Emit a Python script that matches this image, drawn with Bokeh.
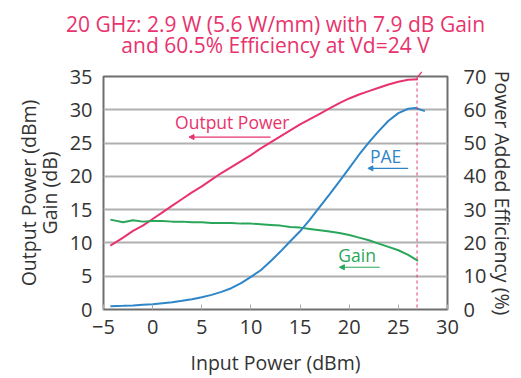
from bokeh.plotting import figure
from bokeh.models import Range1d, LinearAxis, FixedTicker, Arrow, NormalHead, Span, Label
from bokeh.embed import file_html
from bokeh.resources import INLINE

# ---- data ----
pin = [-4.3, -3, -2, -1, 0, 1, 2, 3, 4, 5, 6, 7, 8, 9, 10, 11, 12, 13, 14, 15,
       16, 17, 18, 19, 20, 21, 22, 23, 24, 25, 26, 27]
pout = [9.6, 10.8, 11.8, 12.6, 13.6, 14.6, 15.6, 16.6, 17.6, 18.5, 19.5, 20.5,
        21.4, 22.3, 23.2, 24.2, 25.1, 26.0, 26.9, 27.8, 28.6, 29.4, 30.2, 31.0,
        31.7, 32.3, 32.8, 33.3, 33.8, 34.2, 34.5, 34.6]
gain = [13.5, 13.1, 13.4, 13.2, 13.3, 13.3, 13.2, 13.2, 13.1, 13.1, 13.0, 13.0,
        13.0, 12.9, 12.9, 12.8, 12.7, 12.6, 12.4, 12.3, 12.1, 11.9, 11.7, 11.5,
        11.2, 10.8, 10.4, 9.9, 9.4, 8.9, 8.2, 7.3]
pae_x = [-4.3, -3, -2, -1, 0, 1, 2, 3, 4, 5, 6, 7, 8, 9, 10, 11, 12, 13, 14, 15,
         16, 17, 18, 19, 20, 21, 22, 23, 24, 25, 26, 26.8, 27.7]
pae = [1.0, 1.1, 1.2, 1.4, 1.6, 1.9, 2.2, 2.6, 3.1, 3.7, 4.4, 5.3, 6.4, 7.9, 9.8,
       11.8, 14.5, 17.4, 20.5, 23.5, 27.0, 30.8, 34.6, 38.5, 42.5, 46.5, 50.2,
       53.6, 56.7, 59.0, 60.3, 60.5, 59.6]
x_ticks = [-5, 0, 5, 10, 15, 20, 25, 30]
left_ticks = [0, 5, 10, 15, 20, 25, 30, 35]
right_ticks = [0, 10, 20, 30, 40, 50, 60, 70]
vd_marker = 26.9
title_text = "20 GHz: 2.9 W (5.6 W/mm) with 7.9 dB Gain\nand 60.5% Efficiency at Vd=24 V"
x_label = "Input Power (dBm)"
left_label = "Output Power (dBm)\nGain (dB)"
right_label = "Power Added Efficiency (%)"

PINK = "#e8336d"
BLUE = "#2e86c8"
GREEN = "#2aa65a"
FONT = "Open Sans"
TXT = "#333333"
FS = "19.5px"
TICK_FS = "20px"
TITLE_FS = "21px"

p = figure(width=521, height=378, output_backend="svg", toolbar_location=None,
           x_range=Range1d(-5, 30), y_range=Range1d(0, 35),
           min_border_left=103, min_border_right=74, min_border_top=76,
           min_border_bottom=69)
p.extra_y_ranges = {"pae": Range1d(0, 70)}

p.outline_line_color = "#6e6e6e"
p.outline_line_width = 2
p.xgrid.visible = False
p.ygrid.ticker = FixedTicker(ticks=left_ticks)
p.ygrid.grid_line_color = "#b0b0b0"
p.ygrid.grid_line_width = 2

# keep references to the default axes before adding more
xa = p.below[0]
ya = p.left[0]

# axes
xa.ticker = FixedTicker(ticks=x_ticks)
xa.major_label_overrides = {-5: "\u22125"}
xa.axis_label = x_label
xa.major_tick_in = 5
xa.major_tick_out = 0
xa.major_tick_line_color = "#aaaaaa"
xa.minor_tick_line_color = None
xa.axis_line_color = None
xa.major_label_standoff = 10
xa.axis_label_standoff = 12

ya.ticker = FixedTicker(ticks=left_ticks)
ya.axis_label = left_label
ya.axis_label_text_line_height = 0.78
ya.major_tick_line_color = None
ya.minor_tick_line_color = None
ya.axis_line_color = None
ya.major_label_standoff = 5
ya.axis_label_standoff = 4

ra = LinearAxis(y_range_name="pae", ticker=FixedTicker(ticks=right_ticks),
                axis_label=right_label)
ra.major_tick_line_color = None
ra.minor_tick_line_color = None
ra.axis_line_color = None
ra.major_label_standoff = 10
ra.axis_label_standoff = 0
p.add_layout(ra, "right")

for ax in (xa, ya, ra):
    ax.major_label_text_font = FONT
    ax.major_label_text_font_size = TICK_FS
    ax.major_label_text_color = TXT
    ax.axis_label_text_font = FONT
    ax.axis_label_text_font_size = FS
    ax.axis_label_text_font_style = "normal"
    ax.axis_label_text_color = TXT

# two-line centred title, drawn as the label of a bare axis above the plot
ta = LinearAxis(ticker=FixedTicker(ticks=[]), axis_label=title_text)
ta.axis_line_color = None
ta.major_tick_line_color = None
ta.minor_tick_line_color = None
ta.major_tick_in = 0
ta.major_tick_out = 0
ta.major_label_text_font_size = "0px"
ta.major_label_standoff = 0
ta.axis_label_standoff = 18
ta.axis_label_text_line_height = 0.75
ta.axis_label_text_font = FONT
ta.axis_label_text_font_size = TITLE_FS
ta.axis_label_text_font_style = "normal"
ta.axis_label_text_color = PINK
p.add_layout(ta, "above")

# curves
p.line(pin, pout, line_color=PINK, line_width=2)
p.line(pin, gain, line_color=GREEN, line_width=2)
p.line(pae_x, pae, line_color=BLUE, line_width=2, y_range_name="pae")

p.add_layout(Span(location=vd_marker, dimension="height", line_color=PINK,
                  line_dash="3 3", line_width=1))

# curve labels + arrows
def tag(x, y, text, color, xs, xe, ya_):
    p.add_layout(Label(x=x, y=y, text=text, text_color=color, text_font=FONT,
                       text_font_size="17.5px", text_align="center",
                       text_baseline="middle"))
    p.add_layout(Arrow(x_start=xs, y_start=ya_, x_end=xe, y_end=ya_,
                       line_color=color, line_width=1.2,
                       end=NormalHead(size=5, fill_color=color, line_color=color)))

tag(8.1, 28.1, "Output Power", PINK, 12.0, 3.7, 25.9)
tag(23.7, 23.0, "PAE", BLUE, 26.0, 21.9, 21.2)
tag(20.8, 8.2, "Gain", GREEN, 23.1, 19.0, 6.35)

# arrow from the title to the operating point
p.add_layout(Arrow(x_start=28.5, y_start=37.7, x_end=27.0, y_end=35.0,
                   line_color=PINK, line_width=1.2,
                   end=NormalHead(size=6, fill_color=PINK, line_color=PINK)))

open("out.html", "w").write(file_html(p, INLINE))
